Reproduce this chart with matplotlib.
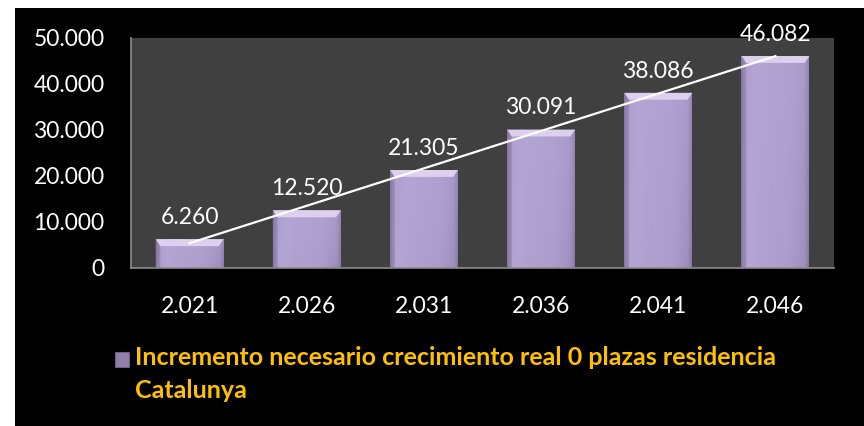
import numpy as np
import matplotlib
matplotlib.use("Agg")
import matplotlib.pyplot as plt
from matplotlib.patches import Rectangle, Polygon
from matplotlib.colors import LinearSegmentedColormap
from matplotlib.ticker import FuncFormatter

plt.rcParams['font.family'] = ['Lato', 'DejaVu Sans']

# data
years = ['2.021', '2.026', '2.031', '2.036', '2.041', '2.046']
plazas = [6260, 12520, 21305, 30091, 38086, 46082]
legend_label = 'Incremento necesario crecimiento real 0 plazas residencia\nCatalunya'


def miles(v, _=None):
    """Spanish style thousands separator."""
    return '{:,}'.format(int(round(v))).replace(',', '.')


fig = plt.figure(figsize=(8.64, 4.26), dpi=100, facecolor='white')

# black panel behind the whole chart
fig.patches.append(Rectangle((15 / 864, 0), 1, (426 - 8) / 426,
                             transform=fig.transFigure, facecolor='black',
                             edgecolor='none', zorder=-1))

ax = fig.add_axes([131 / 864, (426 - 268) / 426, 703 / 864, 230 / 426])
ax.set_facecolor('#404040')

x = np.arange(len(years))
width = 0.58
bars = ax.bar(x, plazas, width=width, color='#a698c6', edgecolor='none', zorder=2)

# purple cylinder-like shading on each bar
shade = LinearSegmentedColormap.from_list(
    'lila', ['#85769f', '#a999c9', '#b4a6d4', '#ac9dcc', '#9b8cbb', '#8a7ba6'])
gx = np.linspace(0, 1, 60)
gy = np.linspace(0, 1, 60)[:, None]
grad = np.interp(gx, [0, 0.06, 0.3, 0.7, 0.94, 1],
                 [0.0, 0.35, 0.5, 0.6, 0.75, 1.0])[None, :]
grad = grad * (0.85 + 0.15 * (1 - gy))
bevel = 1500
for rect in bars:
    x0, w, h = rect.get_x(), rect.get_width(), rect.get_height()
    im = ax.imshow(grad, cmap=shade, origin='lower', aspect='auto',
                   extent=(x0, x0 + w, 0, h), zorder=2, vmin=0, vmax=1)
    im.set_clip_path(rect)
    # light bevel on the top face
    ax.add_patch(Polygon([(x0, h), (x0 + w, h), (x0 + w - 0.04, h - bevel),
                          (x0 + 0.04, h - bevel)], closed=True,
                         facecolor='#ddd0ee', edgecolor='none', zorder=3))
    ax.add_patch(Polygon([(x0, h), (x0 + 0.04, h - bevel), (x0 + 0.04, 0), (x0, 0)],
                         closed=True, facecolor='#8a7aa6', edgecolor='none',
                         alpha=0.6, zorder=3))

# value labels
for xi, v in zip(x, plazas):
    ax.annotate(miles(v), (xi, v), xytext=(0, 8), textcoords='offset points',
                ha='center', va='bottom', color='white', fontsize=16.5, zorder=5)

# linear trend line
k, b = np.polyfit(x, plazas, 1)
ax.plot(x, k * x + b, color='white', lw=1.6, zorder=4)

ax.set_xlim(-0.5, len(years) - 0.5)
ax.set_ylim(0, 50000)
ax.set_yticks(np.arange(0, 50001, 10000))
ax.yaxis.set_major_formatter(FuncFormatter(miles))
ax.set_xticks(x)
ax.set_xticklabels(years)
ax.tick_params(axis='both', length=0, colors='white', labelsize=16.5)
ax.tick_params(axis='y', pad=19)
ax.tick_params(axis='x', pad=20)
for side in ['top', 'right']:
    ax.spines[side].set_visible(False)
for side in ['left', 'bottom']:
    ax.spines[side].set_color('#8c8c8c')
    ax.spines[side].set_linewidth(1.2)

# legend drawn by hand so the key lines up with the first text line
fig.patches.append(Rectangle((115 / 864, 1 - 367 / 426), 14 / 864, 15 / 426,
                             transform=fig.transFigure, facecolor='#8e80a8',
                             edgecolor='#6d6188', lw=0.8))
fig.text(135 / 864, 1 - 346 / 426, legend_label, color='#ffc000',
         fontsize=18, fontweight='bold', va='top', ha='left', linespacing=1.55)

fig.savefig('out.png', dpi=100, facecolor=fig.get_facecolor())
